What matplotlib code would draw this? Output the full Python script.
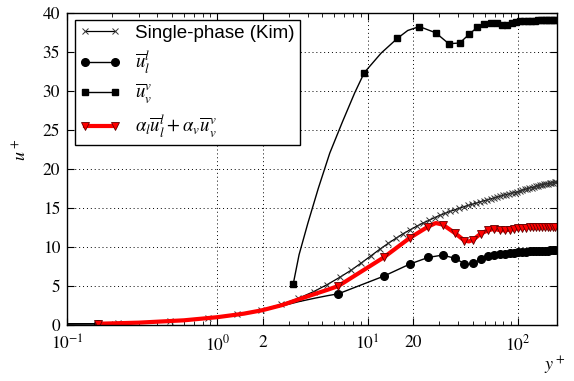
import numpy as np
import matplotlib
matplotlib.use("Agg")
import matplotlib.pyplot as plt

plt.rcParams['mathtext.fontset'] = 'stix'

# single-phase DNS (Kim), y+ and u+
kim_y = [0.0, 0.054,
         0.217, 0.488, 0.867, 1.353, 1.949, 2.65, 3.458, 4.374, 5.393,
         6.52, 7.75, 9.09, 10.52, 12.06, 13.70, 15.44, 17.28, 19.22, 21.26,
         23.38, 25.61, 27.93, 30.33, 32.83, 35.42, 38.09, 40.85, 43.70, 46.62,
         49.63, 52.72, 55.88, 59.11, 62.41, 65.78, 69.22, 72.72, 76.30, 80.0,
         83.56, 87.46, 91.44, 95.15, 99.07, 103.0, 107.1, 111.1, 115.2, 119.4,
         123.5, 127.7, 132.0, 136.3, 140.6, 144.9, 149.2, 153.6, 158.0, 162.4,
         166.8, 171.2, 175.6, 180.0]
kim_u = [0.0, 0.054,
         0.22, 0.49, 0.87, 1.35, 1.94, 2.63, 3.41, 4.27, 5.18,
         6.1, 7.0, 7.95, 8.85, 9.7, 10.45, 11.1, 11.7, 12.2, 12.65,
         13.05, 13.4, 13.75, 14.05, 14.3, 14.55, 14.75, 14.95, 15.15, 15.3,
         15.45, 15.6, 15.75, 15.9, 16.0, 16.15, 16.25, 16.4, 16.5, 16.6,
         16.7, 16.8, 16.9, 16.95, 17.05, 17.15, 17.25, 17.35, 17.45, 17.5,
         17.6, 17.65, 17.75, 17.8, 17.9, 17.95, 18.0, 18.05, 18.1, 18.15,
         18.2, 18.22, 18.25, 18.27]

# liquid velocity (marker points + extra points of the line)
liq_y = [0.16, 6.4, 12.8, 19.1, 25.3, 31.6, 37.9, 44.1, 50.3, 56.6, 62.9,
         69.2, 75.5, 81.8, 88.1, 94.4, 100.7, 107.0, 113.3, 119.6, 125.9,
         132.2, 138.5, 144.8, 151.1, 157.4, 163.7, 170.0, 176.3]
liq_u = [0.16, 4.0, 6.25, 7.8, 8.65, 8.95, 8.55, 7.85, 7.9, 8.4, 8.8,
         9.0, 9.1, 9.15, 9.2, 9.25, 9.3, 9.35, 9.4, 9.42, 9.45,
         9.47, 9.5, 9.5, 9.52, 9.53, 9.55, 9.55, 9.55]
liq_line_y = [0.0, 0.3, 0.6, 1.0, 1.5, 2.0, 2.7, 3.5, 4.5, 5.4, 47.2]
liq_line_u = [0.0, 0.3, 0.6, 1.0, 1.45, 1.9, 2.45, 3.0, 3.45, 3.75, 7.75]

# vapour velocity
vap_y = [0.16, 3.2, 9.5, 15.8, 22.1, 28.4, 34.7, 41.0, 47.3, 53.6, 59.9,
         66.2, 72.5, 78.8, 85.1, 91.4, 97.7, 104.0, 110.3, 116.6, 122.9,
         129.2, 135.5, 141.8, 148.1, 154.4, 160.7, 167.0, 173.3, 179.6]
vap_u = [0.15, 5.25, 32.3, 36.7, 38.2, 37.4, 36.0, 36.1, 37.2, 38.1, 38.5,
         38.6, 38.6, 38.4, 38.4, 38.6, 38.8, 38.9, 38.9, 38.9, 38.95,
         38.95, 39.0, 39.0, 39.0, 39.0, 39.0, 39.05, 39.05, 39.05]
vap_line_y = [0.0, 1.0, 3.5, 4.0, 4.7, 5.6, 6.8, 8.2, 12.3, 18.5]
vap_line_u = [0.0, np.nan, 9.0, 13.0, 17.5, 22.0, 26.0, 29.7, 34.8, 37.7]

# mixture velocity
mix_y = [0.16, 6.4, 12.8, 19.1, 25.3, 31.6, 37.9, 44.1, 50.3, 56.6, 62.9,
         69.2, 75.5, 81.8, 88.1, 94.4, 100.7, 107.0, 113.3, 119.6, 125.9,
         132.2, 138.5, 144.8, 151.1, 157.4, 163.7, 170.0, 176.3]
mix_u = [0.16, 5.0, 8.65, 11.15, 12.6, 12.85, 11.8, 10.8, 10.9, 11.7, 12.1,
         12.3, 12.15, 12.1, 12.2, 12.3, 12.4, 12.4, 12.45, 12.5, 12.5,
         12.5, 12.55, 12.55, 12.55, 12.55, 12.55, 12.55, 12.55]
mix_line_y = [0.3, 0.6, 1.0, 1.5, 2.0, 2.7, 3.5, 4.5, 5.4, 28.4, 47.2]
mix_line_u = [0.3, 0.6, 1.0, 1.45, 1.9, 2.55, 3.3, 4.0, 4.5, 13.05, 10.7]

labels = ['Single-phase (Kim)', r'$\overline{u}_l^l$', r'$\overline{u}_v^v$',
          r'$\alpha_l\overline{u}_l^l + \alpha_v\overline{u}_v^v$']


def merge(my, mu, ly, lu):
    y = np.array(my + ly, dtype=float)
    u = np.array(mu + lu, dtype=float)
    order = np.argsort(y, kind='stable')
    marks = [int(np.where(order == i)[0][0]) for i in range(len(my))]
    return y[order], u[order], marks


fig = plt.figure(figsize=(5.74, 3.81), dpi=100)
ax = fig.add_axes([67 / 574, 56 / 381, 490 / 574, 312.5 / 381])
ax.set_xscale('log')

ax.plot(kim_y, kim_u, color='k', lw=0.9, marker='x', ms=4.5, mew=0.7,
        mec='#333333', label=labels[0])
y, u, m = merge(liq_y, liq_u, liq_line_y, liq_line_u)
ax.plot(y, u, color='k', lw=1.0, marker='o', ms=5.5, markevery=m, label=labels[1])
y, u, m = merge(vap_y, vap_u, vap_line_y, vap_line_u)
ax.plot(y, u, color='k', lw=1.0, marker='s', ms=5, markevery=m, label=labels[2])
y, u, m = merge(mix_y, mix_u, mix_line_y, mix_line_u)
ax.plot(y, u, color='red', lw=3, marker='v', ms=6, mfc='red', mec='#600000',
        mew=0.6, markevery=m, label=labels[3])

ax.set_xlim(0.1, 182)
ax.set_ylim(0, 40)
ax.set_xticks([0.1, 1, 2, 10, 20, 100])
ax.set_xticklabels([r'$10^{-1}$', r'$10^{0}$', '2', r'$10^{1}$', '20', r'$10^{2}$'])
ax.set_yticks(range(0, 41, 5))
for lab in ax.get_xticklabels() + ax.get_yticklabels():
    lab.set_fontfamily('STIXGeneral')
    lab.set_fontsize(12.5)

ax.tick_params(which='both', direction='in', top=True, right=True)
ax.tick_params(which='major', length=5, width=0.8, pad=5)
ax.tick_params(axis='x', which='major', pad=7)
ax.tick_params(which='minor', length=3, width=0.6)
ax.grid(True, which='major', color='k', linestyle=(0, (1, 3)), lw=0.7)
for s in ax.spines.values():
    s.set_linewidth(1.0)

ax.set_ylabel(r'$u^+$', fontsize=13)
ax.yaxis.set_label_coords(-0.075, 0.56)
ax.set_xlabel(r'$y^+$', fontsize=13)
ax.xaxis.set_label_coords(0.996, -0.095)

leg = ax.legend(loc='upper left', numpoints=2, fancybox=False, framealpha=1,
                edgecolor='k', borderaxespad=0.4, handlelength=2.2,
                labelspacing=0.35, borderpad=0.25,
                prop={'family': 'Liberation Sans', 'size': 13.5})
leg.get_frame().set_linewidth(1.0)

fig.savefig('out.png', dpi=100)
